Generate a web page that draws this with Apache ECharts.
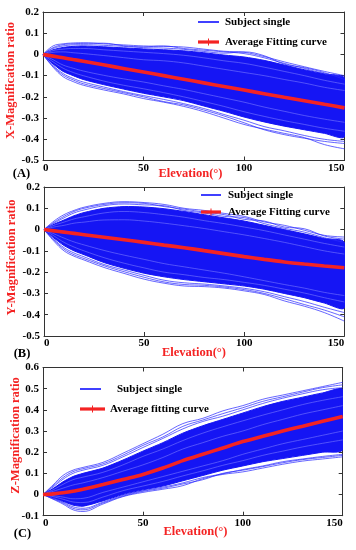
<!DOCTYPE html>
<html>
<head>
<meta charset="utf-8">
<script src="https://cdn.jsdelivr.net/npm/echarts@6/dist/echarts.min.js"></script>
<style>html,body{margin:0;padding:0;background:#fff}#c{width:356px;height:550px}</style>
</head>
<body>
<div id="c"></div>
<script>
// ---------- data ----------
const xs = [0,5,10,15,20,30,40,50,60,70,80,90,100,110,120,130,140,150];
const xTicks = [0,50,100,150];

// Panel A (X-Magnification ratio)
const aAvg    = [0,-0.008,-0.016,-0.024,-0.032,-0.049,-0.066,-0.083,-0.1,-0.117,-0.134,-0.151,-0.168,-0.185,-0.202,-0.218,-0.235,-0.252];
const aCoreHi = [0,0.022,0.033,0.038,0.04,0.036,0.031,0.026,0.022,0.017,0.008,-0.003,-0.012,-0.028,-0.05,-0.072,-0.092,-0.112];
const aCoreLo = [0,-0.045,-0.08,-0.1,-0.118,-0.142,-0.163,-0.183,-0.2,-0.218,-0.243,-0.268,-0.295,-0.318,-0.338,-0.355,-0.372,-0.388];
const aTop1 = [0,0.04,0.05,0.054,0.055,0.05,0.045,0.04,0.038,0.035,0.025,0.015,0.01,-0.01,-0.035,-0.058,-0.08,-0.1];
const aTop2 = [0,0.032,0.046,0.05,0.052,0.053,0.041,0.036,0.04,0.028,0.02,0.012,0.004,-0.016,-0.042,-0.066,-0.09,-0.106];
const aTop3 = [0,0.028,0.04,0.045,0.046,0.043,0.038,0.032,0.03,0.024,0.014,0.006,0.012,-0.006,-0.046,-0.062,-0.086,-0.118];
const aBot1 = [0,-0.06,-0.105,-0.128,-0.145,-0.167,-0.186,-0.208,-0.225,-0.245,-0.27,-0.3,-0.33,-0.352,-0.372,-0.392,-0.425,-0.445];
const aBot2 = [0,-0.056,-0.097,-0.12,-0.138,-0.16,-0.18,-0.2,-0.222,-0.238,-0.262,-0.29,-0.322,-0.355,-0.378,-0.395,-0.41,-0.42];
const aBot3 = [0,-0.052,-0.09,-0.113,-0.13,-0.153,-0.175,-0.194,-0.212,-0.232,-0.255,-0.283,-0.31,-0.34,-0.36,-0.382,-0.4,-0.41];
const aIn1  = [0,0.01,0.012,0.008,0.004,-0.005,-0.015,-0.025,-0.03,-0.04,-0.055,-0.07,-0.085,-0.1,-0.118,-0.135,-0.155,-0.17];
const aIn2  = [0,-0.025,-0.05,-0.065,-0.078,-0.098,-0.115,-0.13,-0.148,-0.165,-0.185,-0.205,-0.225,-0.248,-0.268,-0.288,-0.305,-0.32];
const aIn3  = [0,-0.035,-0.065,-0.085,-0.1,-0.125,-0.145,-0.162,-0.18,-0.2,-0.222,-0.245,-0.27,-0.292,-0.312,-0.33,-0.348,-0.362];
const aIn4  = [0,0.018,0.025,0.028,0.028,0.022,0.016,0.01,0.004,-0.004,-0.016,-0.03,-0.042,-0.06,-0.08,-0.1,-0.122,-0.14];

// Panel B (Y-Magnification ratio)
const bAvg    = [0,-0.006,-0.012,-0.018,-0.024,-0.036,-0.048,-0.06,-0.073,-0.085,-0.099,-0.113,-0.127,-0.14,-0.152,-0.162,-0.171,-0.179];
const bCoreHi = [0,0.025,0.045,0.065,0.08,0.1,0.108,0.106,0.098,0.085,0.07,0.055,0.04,0.02,0.0,-0.02,-0.042,-0.06];
const bCoreLo = [0,-0.04,-0.075,-0.1,-0.118,-0.155,-0.182,-0.205,-0.222,-0.235,-0.245,-0.255,-0.265,-0.28,-0.3,-0.32,-0.345,-0.368];
const bTop1 = [0,0.04,0.07,0.09,0.105,0.123,0.131,0.127,0.118,0.1,0.09,0.076,0.062,0.036,0.02,-0.003,-0.027,-0.035];
const bTop2 = [0,0.034,0.062,0.085,0.1,0.118,0.126,0.123,0.108,0.096,0.082,0.07,0.048,0.04,0.012,0.004,-0.03,-0.045];
const bTop3 = [0,0.03,0.055,0.078,0.092,0.112,0.12,0.116,0.112,0.09,0.078,0.062,0.056,0.028,0.006,-0.012,-0.038,-0.06];
const bBot1 = [0,-0.055,-0.1,-0.125,-0.143,-0.178,-0.206,-0.233,-0.252,-0.265,-0.268,-0.275,-0.288,-0.305,-0.335,-0.36,-0.39,-0.43];
const bBot2 = [0,-0.05,-0.092,-0.118,-0.136,-0.17,-0.198,-0.224,-0.246,-0.258,-0.262,-0.27,-0.282,-0.3,-0.325,-0.352,-0.378,-0.41];
const bBot3 = [0,-0.046,-0.085,-0.11,-0.128,-0.164,-0.19,-0.215,-0.238,-0.25,-0.256,-0.265,-0.276,-0.292,-0.315,-0.338,-0.365,-0.39];
const bIn1  = [0,0.012,0.02,0.03,0.035,0.045,0.046,0.04,0.03,0.018,0.005,-0.01,-0.025,-0.042,-0.06,-0.08,-0.1,-0.115];
const bIn2  = [0,-0.02,-0.04,-0.058,-0.072,-0.098,-0.12,-0.14,-0.16,-0.175,-0.19,-0.205,-0.222,-0.24,-0.258,-0.275,-0.295,-0.31];
const bIn3  = [0,-0.03,-0.06,-0.082,-0.1,-0.132,-0.158,-0.18,-0.2,-0.212,-0.225,-0.235,-0.248,-0.262,-0.28,-0.298,-0.32,-0.34];
const bIn4  = [0,0.02,0.035,0.05,0.06,0.078,0.085,0.08,0.07,0.058,0.042,0.028,0.012,-0.005,-0.025,-0.045,-0.065,-0.082];

// Panel C (Z-Magnification ratio)
const cAvg    = [0,0.003,0.008,0.015,0.025,0.047,0.071,0.095,0.125,0.16,0.19,0.22,0.25,0.275,0.3,0.323,0.346,0.368];
const cCoreHi = [0,0.028,0.06,0.085,0.1,0.125,0.163,0.205,0.245,0.29,0.325,0.355,0.385,0.415,0.44,0.46,0.48,0.495];
const cCoreLo = [0,-0.015,-0.032,-0.05,-0.055,-0.03,0.0,0.022,0.04,0.065,0.09,0.115,0.135,0.155,0.17,0.185,0.2,0.212];
const cTop1 = [0,0.045,0.09,0.115,0.128,0.152,0.195,0.24,0.285,0.335,0.36,0.395,0.42,0.45,0.47,0.49,0.51,0.53];
const cTop2 = [0,0.04,0.08,0.108,0.122,0.145,0.186,0.232,0.272,0.322,0.352,0.382,0.41,0.44,0.462,0.484,0.505,0.518];
const cTop3 = [0,0.035,0.072,0.1,0.115,0.138,0.178,0.222,0.265,0.31,0.345,0.37,0.4,0.43,0.455,0.476,0.495,0.505];
const cBot1 = [0,-0.022,-0.045,-0.072,-0.08,-0.045,-0.01,0.01,0.025,0.042,0.075,0.095,0.107,0.125,0.143,0.158,0.168,0.178];
const cBot2 = [0,-0.02,-0.04,-0.065,-0.072,-0.04,-0.008,0.015,0.03,0.05,0.07,0.1,0.115,0.132,0.15,0.165,0.175,0.185];
const cBot3 = [0,-0.018,-0.036,-0.058,-0.065,-0.036,-0.004,0.018,0.035,0.055,0.08,0.098,0.118,0.135,0.155,0.168,0.18,0.19];
const cIn1  = [0,0.015,0.03,0.045,0.055,0.08,0.11,0.14,0.175,0.215,0.245,0.275,0.3,0.33,0.355,0.38,0.4,0.42];
const cIn2  = [0,-0.005,-0.012,-0.02,-0.018,0.01,0.035,0.06,0.085,0.11,0.135,0.16,0.19,0.215,0.24,0.26,0.28,0.3];
const cIn3  = [0,0.022,0.048,0.07,0.082,0.105,0.14,0.18,0.215,0.255,0.29,0.32,0.348,0.375,0.4,0.425,0.445,0.462];
const cIn4  = [0,-0.01,-0.022,-0.035,-0.038,-0.012,0.018,0.04,0.062,0.088,0.112,0.138,0.16,0.185,0.205,0.225,0.242,0.258];

const yTitles = ['X-Magnification ratio','Y-Magnification ratio','Z-Magnification ratio'];
const xTitle = 'Elevation(°)';
const panelTags = ['(A)','(B)','(C)'];
const legendSingle = 'Subject single';
const legendAvg = ['Average Fitting curve','Average Fitting curve','Average fitting curve'];
const yRanges = [[-0.5,0.2],[-0.5,0.2],[-0.1,0.6]];

// ---------- chart ----------
const FONT = '"Liberation Serif","Times New Roman",serif';
const RED = '#f42323';
const BLUE = '#1515f4';
const grids = [
  {left:43, top:12, width:301.5, height:148.5},
  {left:44, top:187, width:300.3, height:149},
  {left:43, top:367.5, width:299.7, height:148.2}
];
const panels = [
  {avg:aAvg, hi:aCoreHi, lo:aCoreLo, edge:[aTop1,aTop2,aTop3,aBot1,aBot2,aBot3], inner:[aIn1,aIn2,aIn3,aIn4]},
  {avg:bAvg, hi:bCoreHi, lo:bCoreLo, edge:[bTop1,bTop2,bTop3,bBot1,bBot2,bBot3], inner:[bIn1,bIn2,bIn3,bIn4]},
  {avg:cAvg, hi:cCoreHi, lo:cCoreLo, edge:[cTop1,cTop2,cTop3,cBot1,cBot2,cBot3], inner:[cIn1,cIn2,cIn3,cIn4]}
];
const axisCol = '#333';
const xAxes = [], yAxes = [], series = [];
function xAx(g, pos){
  return {type:'value', gridIndex:g, min:0, max:150, interval:50, position:pos,
    axisLine:{show:true,onZero:false,lineStyle:{color:axisCol,width:1}},
    axisTick:{show:true,inside:true,length:4,lineStyle:{color:axisCol}},
    axisLabel:{show:pos==='bottom',margin:2,color:'#000',fontFamily:FONT,fontWeight:'bold',fontSize:11,
      alignMinLabel:'left',alignMaxLabel:'right'},
    splitLine:{show:false}};
}
function yAx(g, pos){
  return {type:'value', gridIndex:g, min:yRanges[g][0], max:yRanges[g][1], interval:0.1, position:pos,
    axisLine:{show:true,onZero:false,lineStyle:{color:axisCol,width:1}},
    axisTick:{show:true,inside:true,length:4,lineStyle:{color:axisCol}},
    axisLabel:{show:pos==='left',margin:4,color:'#000',fontFamily:FONT,fontWeight:'bold',fontSize:11,
      formatter:v=>String(Math.round(v*10)/10)},
    splitLine:{show:false}};
}
for(let g=0; g<3; g++){ xAxes.push(xAx(g,'bottom')); yAxes.push(yAx(g,'left')); }
for(let g=0; g<3; g++){ xAxes.push(xAx(g,'top')); yAxes.push(yAx(g,'right')); }

const pairs = arr => xs.map((x,i)=>[x,arr[i]]);
panels.forEach((p,g)=>{
  series.push({
    type:'custom', xAxisIndex:g, yAxisIndex:g, clip:true, z:1, silent:true,
    data:[[0,0]],
    renderItem:(params, api)=>{
      const pts=[];
      for(let i=0;i<xs.length;i++) pts.push(api.coord([xs[i],p.hi[i]]));
      for(let i=xs.length-1;i>=0;i--) pts.push(api.coord([xs[i],p.lo[i]]));
      return {type:'polygon', shape:{points:pts, smooth:0.25}, style:{fill:BLUE, stroke:BLUE, lineWidth:1}};
    }
  });
  p.edge.forEach(arr=>series.push({type:'line', xAxisIndex:g, yAxisIndex:g, data:pairs(arr), smooth:0.4,
    symbol:'none', silent:true, z:2, lineStyle:{color:'#2a2aff', width:0.9, opacity:0.8}}));
  p.inner.forEach(arr=>series.push({type:'line', xAxisIndex:g, yAxisIndex:g, data:pairs(arr), smooth:0.4,
    symbol:'none', silent:true, z:3, lineStyle:{color:'#7c7cff', width:0.7, opacity:0.85}}));
  series.push({type:'line', xAxisIndex:g, yAxisIndex:g, data:pairs(p.avg), smooth:0.3,
    symbol:'none', silent:true, z:10, lineStyle:{color:RED, width:3.6}});
});

// graphic texts & legends
const graphic = [];
const yTitlePos = [[11,80.5],[12,257.5],[15.5,435.5]];
const xTitlePos = [[190.5,173.5],[194,352.5],[195.5,531.5]];
const tagPos = [[21.5,173.5],[22,353.5],[22.5,533.5]];
const legPos = [ // [lineX0,lineX1,y1,y2,textX1,textX2]
  [198,219,22,42,225,225],
  [201,221,195,212,228,228],
  [80,101,389,409,117,110]
];
for(let g=0; g<3; g++){
  graphic.push({type:'text', x:yTitlePos[g][0], y:yTitlePos[g][1], rotation:Math.PI/2,
    style:{text:yTitles[g], fill:RED, font:'bold 12.5px '+FONT, align:'center', verticalAlign:'middle'}});
  graphic.push({type:'text', x:xTitlePos[g][0], y:xTitlePos[g][1],
    style:{text:xTitle, fill:RED, font:'bold 12.5px '+FONT, align:'center', verticalAlign:'middle'}});
  graphic.push({type:'text', x:tagPos[g][0], y:tagPos[g][1],
    style:{text:panelTags[g], fill:'#000', font:'bold 12.5px '+FONT, align:'center', verticalAlign:'middle'}});
  const L = legPos[g];
  graphic.push({type:'line', shape:{x1:L[0],y1:L[2],x2:L[1],y2:L[2]}, style:{stroke:'#0000ff', lineWidth:1.5}, z:20});
  graphic.push({type:'line', shape:{x1:L[0],y1:L[3],x2:L[1]+(g===2?4:0),y2:L[3]}, style:{stroke:RED, lineWidth:3.2}, z:20});
  const mx = (L[0]+L[1]+(g===2?4:0))/2;
  graphic.push({type:'line', shape:{x1:mx,y1:L[3]-3.5,x2:mx,y2:L[3]+3.5}, style:{stroke:RED, lineWidth:1}, z:20});
  graphic.push({type:'text', x:L[4], y:L[2],
    style:{text:legendSingle, fill:'#000', font:'bold 11px '+FONT, align:'left', verticalAlign:'middle'}, z:20});
  graphic.push({type:'text', x:L[5], y:L[3],
    style:{text:legendAvg[g], fill:'#000', font:'bold 11px '+FONT, align:'left', verticalAlign:'middle'}, z:20});
}

const chart = echarts.init(document.getElementById('c'), null, {renderer:'canvas'});
chart.setOption({
  animation:false,
  backgroundColor:'#fff',
  grid:grids,
  xAxis:xAxes,
  yAxis:yAxes,
  series:series,
  graphic:graphic
});
</script>
</body>
</html>
